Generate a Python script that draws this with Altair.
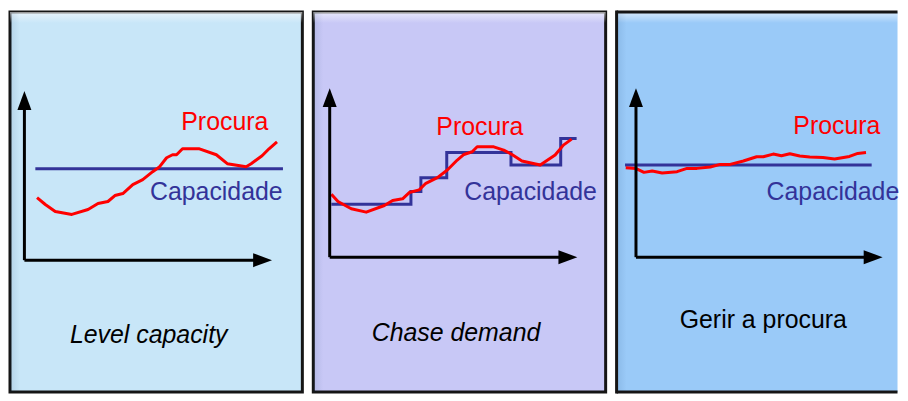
import altair as alt
import pandas as pd

# ---------------- data ----------------
# Panel 1 - Level capacity (time, demand)
p1_dem_t = [12.7, 21, 31, 47.7, 64, 74, 84, 91, 99, 109, 119, 129, 136, 143, 149, 153,
            159, 176, 193, 204, 223, 228, 239, 246, 254]
p1_dem_v = [63, 56, 49, 46, 51, 57, 59, 65, 67, 76, 81, 89, 94, 103, 106, 106,
            112, 112, 106, 97, 94, 97, 105, 112, 119]
p1_cap_t = [11, 260]
p1_cap_v = [92, 92]

# Panel 2 - Chase demand
p2_dem_t = [1.7, 8.3, 21.7, 36.7, 55, 63.3, 73.3, 80, 90, 96.7, 108.3, 118.3, 128.3, 135,
            143.3, 148.3, 165, 175, 183.3, 193.3, 211.7, 226.7, 235, 243.3]
p2_dem_v = [63.3, 56, 48.7, 45.3, 52, 57, 58.7, 65, 67.7, 74.3, 80, 87.7, 97.7, 103.3,
            106, 111, 111, 107.7, 103.3, 96.7, 92.7, 102.7, 112.7, 118.7]
p2_cap_t = [1.7, 81.7, 91.7, 117.7, 182.3, 232.3, 248.3]
p2_cap_v = [53.3, 66, 80, 105.3, 92.7, 119.3, 119.3]

# Panel 3 - Gerir a procura
p3_dem_t = [-10.3, -0.3, 8, 16.3, 26.3, 41.3, 51.3, 61.3, 74.7, 84.7, 94.7, 108, 121.3, 128,
            138, 146.3, 154.7, 164.7, 174.7, 188, 199.7, 214.7, 223, 231.3]
p3_dem_v = [90, 89.3, 85.3, 86.7, 84.7, 86, 89.3, 89.3, 90.7, 93.3, 93.3, 96.7, 101, 101,
            103.7, 102, 104, 101.7, 100.7, 100.3, 98.7, 101.3, 104.3, 105.3]
p3_cap_t = [-11, 237]
p3_cap_v = [92.7, 92.7]

captions = ["Level capacity", "Chase demand", "Gerir a procura"]
series_names = ["Procura", "Capacidade"]

# ---------------- layout / style ----------------
W, W3, H = 294, 282.5, 382
TOP = 9.5
LEFTS = [9.5, 313.5, 617.5]
SPACING = 7
RED = "#ff0000"
BLUE = "#333399"
BORDER = "#151515"
FONT = "Liberation Sans"
FS = 25

TOP_SHINE = alt.LinearGradient(gradient="linear", x1=0, y1=0, x2=0, y2=1, stops=[
    alt.GradientStop(color="rgba(255,255,255,0.6)", offset=0),
    alt.GradientStop(color="rgba(255,255,255,0)", offset=1)])
LEFT_SHADE = alt.LinearGradient(gradient="linear", x1=0, y1=0, x2=1, y2=0, stops=[
    alt.GradientStop(color="rgba(0,40,90,0.10)", offset=0),
    alt.GradientStop(color="rgba(0,40,90,0)", offset=1)])


def panel(dem_t, dem_v, cap_t, cap_v, cap_interp, ox, oy, left, width, xlen, ylen,
          lab_pos, caption, cap_italic, fill, open_right=False):
    xs = alt.Scale(domain=[left - ox, left + width - ox], nice=False, zero=False)
    ys = alt.Scale(domain=[oy - (TOP + H), oy - TOP], nice=False, zero=False)
    X = alt.X("t:Q", scale=xs, axis=None)
    Y = alt.Y("d:Q", scale=ys, axis=None)

    one = alt.Chart(pd.DataFrame({"k": [0]}))
    shine = one.mark_rect(color=TOP_SHINE).encode(
        x=alt.value(0), x2=alt.value(width), y=alt.value(0), y2=alt.value(11))
    shade = one.mark_rect(color=LEFT_SHADE).encode(
        x=alt.value(0), x2=alt.value(10), y=alt.value(0), y2=alt.value(H))

    axes = pd.DataFrame({"t": [0, 0], "d": [0, 0], "t2": [xlen - 10, 0], "d2": [0, ylen - 10]})
    axis_rules = alt.Chart(axes).mark_rule(color="black", strokeWidth=3).encode(
        x=X, y=Y, x2="t2:Q", y2="d2:Q")
    heads_up = alt.Chart(pd.DataFrame({"t": [0], "d": [ylen - 9.5]})).mark_point(
        shape="M0,-1L0.74,1L-0.74,1Z", size=361, filled=True, color="black",
        opacity=1, strokeWidth=0).encode(x=X, y=Y)
    heads_right = alt.Chart(pd.DataFrame({"t": [xlen - 9.5], "d": [0]})).mark_point(
        shape="M1,0L-1,-0.74L-1,0.74Z", size=361, filled=True, color="black",
        opacity=1, strokeWidth=0).encode(x=X, y=Y)

    cap = alt.Chart(pd.DataFrame({"t": cap_t, "d": cap_v})).mark_line(
        color=BLUE, strokeWidth=3, interpolate=cap_interp, strokeJoin="miter").encode(x=X, y=Y)
    dem = alt.Chart(pd.DataFrame({"t": dem_t, "d": dem_v})).mark_line(
        color=RED, strokeWidth=3, strokeJoin="round").encode(x=X, y=Y)

    labs = pd.DataFrame({"t": [lab_pos[0][0], lab_pos[1][0]],
                         "d": [lab_pos[0][1], lab_pos[1][1]],
                         "txt": series_names, "col": [RED, BLUE]})
    lab_text = alt.Chart(labs).mark_text(font=FONT, fontSize=FS, align="center",
                                         baseline="alphabetic").encode(
        x=X, y=Y, text="txt:N", color=alt.Color("col:N", scale=None))
    capdf = pd.DataFrame({"t": [lab_pos[2][0]], "d": [lab_pos[2][1]], "txt": [caption]})
    cap_kw = dict(font=FONT, fontSize=FS, align="center", baseline="alphabetic", color="black")
    if cap_italic:
        cap_kw["fontStyle"] = "italic"
    cap_text = alt.Chart(capdf).mark_text(**cap_kw).encode(x=X, y=Y, text="txt:N")

    layers = [shine, shade, cap, dem, axis_rules, heads_up, heads_right, lab_text, cap_text]
    if open_right:
        frame_kw = dict(color=BORDER, strokeWidth=3)
        layers += [
            one.mark_rule(**frame_kw).encode(x=alt.value(0), y=alt.value(-1.5), y2=alt.value(H + 1.5)),
            one.mark_rule(**frame_kw).encode(x=alt.value(0), x2=alt.value(width), y=alt.value(0)),
            one.mark_rule(**frame_kw).encode(x=alt.value(0), x2=alt.value(width), y=alt.value(H)),
        ]
        view = alt.ViewBackground(fill=fill, stroke="transparent", strokeWidth=0)
    else:
        view = alt.ViewBackground(fill=fill, stroke=BORDER, strokeWidth=3)
    return alt.layer(*layers).properties(width=width, height=H, view=view)


c1 = panel(p1_dem_t, p1_dem_v, p1_cap_t, p1_cap_v, "linear", 24, 259, LEFTS[0], W, 249, 170,
           [(201.5, 131), (193, 61), (125, -83)], captions[0], True, "#c8e6f8")
c2 = panel(p2_dem_t, p2_dem_v, p2_cap_t, p2_cap_v, "step-after", 330, 256, LEFTS[1], W, 249, 170,
           [(151, 123), (202, 58), (127, -84)], captions[1], True, "#c8c8f6")
c3 = panel(p3_dem_t, p3_dem_v, p3_cap_t, p3_cap_v, "linear", 637, 256, LEFTS[2], W3, 248, 170,
           [(202, 124), (198, 58), (128, -71)], captions[2], False, "#9acaf8", open_right=True)

chart = alt.hconcat(c1, c2, c3, spacing=SPACING).properties(
    padding={"left": 0, "top": 0, "right": 0, "bottom": 0},
    background="white",
)

chart.save("out.html", embed_options={"renderer": "svg", "actions": False})
